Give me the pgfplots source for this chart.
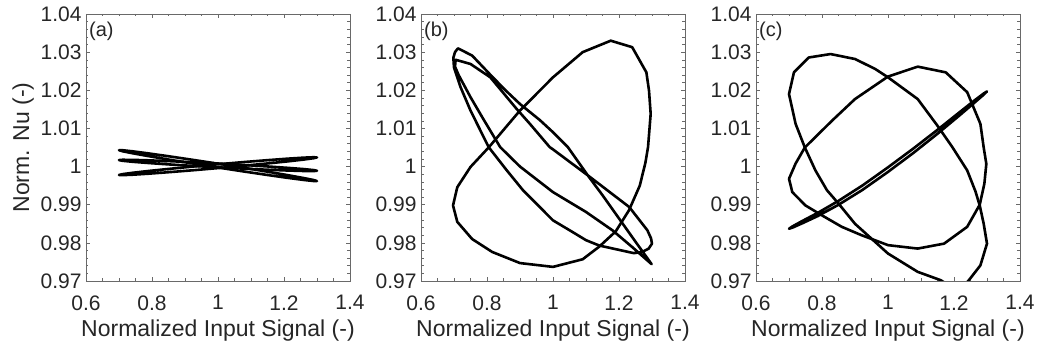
\documentclass[border=0pt]{standalone}
\usepackage{fontspec}
\setmainfont{Liberation Sans}
\usepackage{pgfplots}
\pgfplotsset{compat=1.18}
\definecolor{axgray}{RGB}{105,105,105}
\definecolor{txtgray}{RGB}{38,38,38}
\pgfplotsset{
  panel/.style={
    width=264pt, height=267pt, scale only axis,
    xmin=0.6, xmax=1.4, ymin=0.97, ymax=1.04,
    xtick={0.6,0.8,1,1.2,1.4}, xticklabels={0.6,0.8,1,1.2,1.4},
    ytick={0.97,0.98,0.99,1,1.01,1.02,1.03,1.04},
    yticklabels={0.97,0.98,0.99,1,1.01,1.02,1.03,1.04},
    minor x tick num=3, minor y tick num=4,
    tick align=inside, tick pos=both,
    major tick length=4pt, minor tick length=2.5pt,
    axis line style={draw=axgray, line width=0.6pt},
    tick style={draw=axgray, line width=0.6pt},
    minor tick style={draw=axgray, line width=0.5pt},
    tick label style={font=\fontsize{21}{24}\selectfont, text=txtgray},
    xticklabel style={yshift=-11pt},
    yticklabel style={xshift=-1pt},
    xlabel style={at={(axis description cs:0.5,0)}, anchor=base, yshift=-56pt,
      font=\fontsize{23}{27}\selectfont, text=txtgray},
    xlabel={Normalized Input Signal (-)},
    clip=true,
  },
  curve/.style={black, line width=2.6pt, line join=round, line cap=round, mark=none},
}
\newcommand{\plab}[1]{\node[anchor=base west, inner sep=0pt, font=\fontsize{20}{23}\selectfont, text=txtgray] at ([xshift=3pt,yshift=-22.5pt]rel axis cs:0,1) {#1};}
\begin{document}
\begin{tikzpicture}[x=1pt,y=1pt]
\path[use as bounding box] (0,0) rectangle (1037,348);
\node[rotate=90, anchor=base, font=\fontsize{23}{27}\selectfont, text=txtgray] at (29,200.5) {Norm. Nu (-)};
% ---------------- (a)
\begin{axis}[panel, at={(86pt,67pt)}, anchor=south west]
\addplot[curve] coordinates {(1.3,0.9962) (1.2898,0.99647) (1.2598,0.99699) (1.2121,0.99774) (1.15,0.99866) (1.0776,0.99969) (1.0,1.00075) (0.9224,1.00178) (0.85,1.00271) (0.7879,1.00347) (0.7402,1.00401) (0.7102,1.00429) (0.7,1.0043) (0.7102,1.00403) (0.7402,1.00351) (0.7879,1.00276) (0.85,1.00184) (0.9224,1.00082) (1.0,0.99975) (1.0776,0.99872) (1.15,0.99779) (1.2121,0.99703) (1.2598,0.99649) (1.2898,0.99621) (1.3,0.9962)};
\addplot[curve] coordinates {(1.3,0.9989) (1.2898,0.99908) (1.2598,0.99934) (1.2121,0.99966) (1.15,1.00003) (1.0776,1.00042) (1.0,1.0008) (0.9224,1.00115) (0.85,1.00143) (0.7879,1.00164) (0.7402,1.00176) (0.7102,1.00178) (0.7,1.0017) (0.7102,1.00152) (0.7402,1.00126) (0.7879,1.00094) (0.85,1.00057) (0.9224,1.00018) (1.0,0.9998) (1.0776,0.99946) (1.15,0.99917) (1.2121,0.99896) (1.2598,0.99884) (1.2898,0.99882) (1.3,0.9989)};
\addplot[curve] coordinates {(1.3,1.0024) (1.2898,1.00245) (1.2598,1.00234) (1.2121,1.00208) (1.15,1.00168) (1.0776,1.00118) (1.0,1.0006) (0.9224,0.99999) (0.85,0.99938) (0.7879,0.99883) (0.7402,0.99836) (0.7102,0.99801) (0.7,0.9978) (0.7102,0.99775) (0.7402,0.99786) (0.7879,0.99812) (0.85,0.99852) (0.9224,0.99902) (1.0,0.9996) (1.0776,1.00021) (1.15,1.00082) (1.2121,1.00137) (1.2598,1.00184) (1.2898,1.00219) (1.3,1.0024)};
\plab{(a)}
\end{axis}
% ---------------- (b)
\begin{axis}[panel, at={(421pt,67pt)}, anchor=south west]
\addplot[curve] coordinates {(0.697,0.9898) (0.71,0.9946) (0.75,0.9999) (0.806,1.0051) (0.90,1.0147) (1.0,1.0234) (1.09,1.0300) (1.175,1.0330) (1.24,1.0313) (1.283,1.0247) (1.291,1.0199) (1.296,1.0138) (1.288,1.0051) (1.28,1.0010) (1.263,0.9950) (1.23,0.9885) (1.19,0.9830) (1.14,0.9790) (1.09,0.9757) (1.0,0.9737) (0.90,0.9747) (0.816,0.9776) (0.755,0.9810) (0.71,0.9855) (0.697,0.9898)};
\addplot[curve] coordinates {(0.712,1.0310) (0.755,1.0291) (0.811,1.0240) (0.856,1.0200) (0.90,1.0164) (0.96,1.0122) (1.0,1.0090) (1.045,1.0051) (1.107,0.9975) (1.15,0.9925) (1.20,0.9864) (1.25,0.9803) (1.299,0.9744) (1.24,0.9789) (1.18,0.9833) (1.10,0.9881) (1.0,0.9933) (0.90,1.0) (0.84,1.0051) (0.792,1.0120) (0.75,1.0182) (0.714,1.0240) (0.703,1.0262) (0.705,1.0280) (0.75,1.0269) (0.81,1.0234) (0.89,1.0151) (0.93,1.0112) (0.99,1.0051) (1.0,1.0045) (1.107,0.9976) (1.231,0.9894) (1.286,0.9833) (1.297,0.9812) (1.300,0.9798) (1.29,0.9785) (1.27,0.9776) (1.245,0.9773) (1.14,0.9793) (1.10,0.9807) (1.06,0.9828) (1.0,0.9859) (0.91,0.9937) (0.86,0.9990) (0.805,1.0051) (0.75,1.0147) (0.72,1.0208) (0.70,1.0260) (0.698,1.0285) (0.703,1.0300) (0.712,1.0310)};
\plab{(b)}
\end{axis}
% ---------------- (c)
\begin{axis}[panel, at={(756pt,67pt)}, anchor=south west]
\addplot[curve] coordinates {(1.09,1.0262) (1.175,1.0247) (1.24,1.0195) (1.28,1.0112) (1.29,1.005) (1.298,1.0007) (1.292,0.9955) (1.278,0.9900) (1.24,0.9842) (1.17,0.9798) (1.09,0.9785) (1.0,0.9794) (0.92,0.9820) (0.86,0.9842) (0.80,0.9872) (0.75,0.9898) (0.71,0.9933) (0.70,0.9968) (0.72,1.0008) (0.748,1.0050) (0.83,1.0120) (0.90,1.0177) (1.0,1.0236) (1.09,1.0262)};
\addplot[curve] coordinates {(1.20,0.9680) (1.16,0.9702) (1.09,0.9724) (1.0,0.9772) (0.95,0.9811) (0.90,0.9850) (0.85,0.9903) (0.815,0.9938) (0.78,0.9990) (0.748,1.0050) (0.72,1.0112) (0.70,1.0190) (0.715,1.0247) (0.76,1.0286) (0.826,1.0295) (0.90,1.0282) (0.961,1.0256) (1.0,1.0234) (1.09,1.0177) (1.15,1.0107) (1.195,1.0051) (1.24,0.9990) (1.265,0.9935) (1.278,0.9898) (1.29,0.9850) (1.30,0.9798) (1.28,0.9741) (1.245,0.9702) (1.22,0.9680)};
\addplot[curve] coordinates {(0.7,0.9837) (0.7102,0.98430) (0.7402,0.98573) (0.7879,0.98790) (0.85,0.99102) (0.9224,0.99503) (1.0,0.9998) (1.0776,1.00478) (1.15,1.00964) (1.2121,1.01392) (1.2598,1.01719) (1.2898,1.01915) (1.3,1.0197) (1.2898,1.01884) (1.2598,1.01659) (1.2121,1.01308) (1.15,1.0086) (1.0776,1.00362) (1.0,0.9986) (0.9224,0.99387) (0.85,0.98998) (0.7879,0.98706) (0.7402,0.98513) (0.7102,0.98398) (0.7,0.9837)};
\plab{(c)}
\end{axis}
\end{tikzpicture}
\end{document}
